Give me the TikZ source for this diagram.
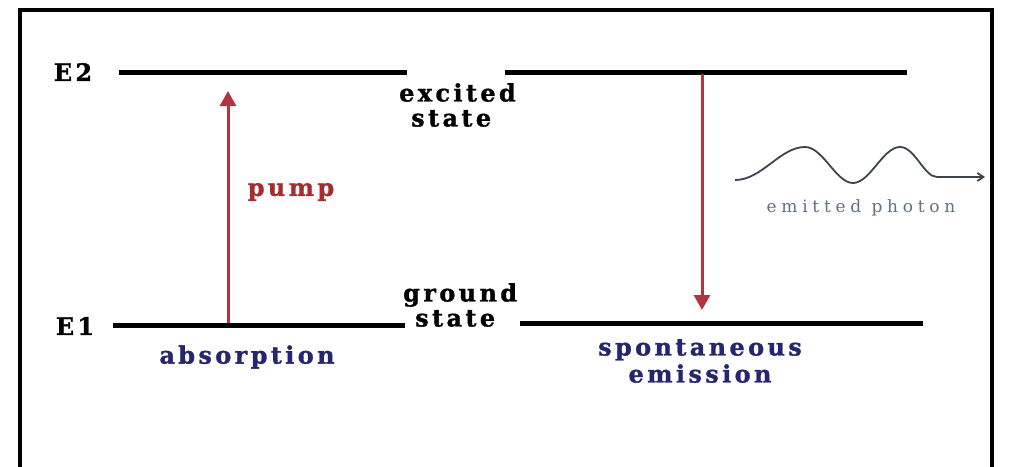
\documentclass[tikz,border=0pt]{standalone}
\usepackage{fontspec}
\usetikzlibrary{arrows.meta}
\setmainfont{DejaVu Serif}
\newfontfamily\lblfont[LetterSpace=14,FakeBold=1.2]{DejaVu Serif}
\newfontfamily\photfont[LetterSpace=28]{DejaVu Serif}
\definecolor{lvl}{RGB}{0,0,0}
\definecolor{arr}{RGB}{178,52,62}
\definecolor{pumpc}{RGB}{165,45,45}
\definecolor{navy}{RGB}{38,38,112}
\definecolor{phot}{RGB}{95,112,135}
\definecolor{wavec}{RGB}{60,68,78}
\tikzset{
  level/.style={line width=5pt, draw=lvl},
  transition/.style={line width=3pt, draw=arr, -{Triangle[width=16pt,length=15pt]}},
  lbl/.style={font=\lblfont\bfseries\fontsize{24}{25}\selectfont, inner sep=0pt},
  frame/.style={line width=4pt, draw=black},
}
\begin{document}
\begin{tikzpicture}[x=1pt,y=-1pt]
\useasboundingbox (0,0) rectangle (1017,466);
% frame (open at bottom)
\draw[frame] (20,470) -- (20,10) -- (992,10) -- (992,470);
% levels
\coordinate (e2La) at (119,72); \coordinate (e2Lb) at (407,72);
\coordinate (e2Ra) at (505,72); \coordinate (e2Rb) at (907,72);
\coordinate (e1La) at (113,325); \coordinate (e1Lb) at (405,325);
\coordinate (e1Ra) at (520,323); \coordinate (e1Rb) at (923,323);
\draw[level] (e2La) -- (e2Lb);
\draw[level] (e2Ra) -- (e2Rb);
\draw[level] (e1La) -- (e1Lb);
\draw[level] (e1Ra) -- (e1Rb);
% transitions
\coordinate (pumpS) at (228,323);
\coordinate (pumpT) at (228,91);
\coordinate (emS) at (702,74);
\coordinate (emT) at (702,310);
\draw[transition] (pumpS) -- (pumpT);
\draw[transition] (emS) -- (emT);
% labels
\node[lbl] (E2) at (73,72) {E2};
\node[lbl] (E1) at (75,326) {E1};
\node[lbl, anchor=west, align=left] (exc) at (399,105) {excited\\\hspace*{12pt}state};
\node[lbl, anchor=west, align=left] (gnd) at (403,305) {ground\\\hspace*{12pt}state};
\node[lbl, text=pumpc] (pump) at (291,192) {pump};
\node[lbl, text=navy] (abs) at (247,357) {absorption};
\node[lbl, text=navy, align=center, font=\lblfont\bfseries\fontsize{24}{27}\selectfont] (spon) at (700,361) {spontaneous\\emission};
% photon
\coordinate (w0) at (735,180);
\coordinate (w1) at (805,147);
\coordinate (w2) at (853,183);
\coordinate (w3) at (900,147);
\coordinate (w4) at (937,177);
\coordinate (w5) at (985,177);
\draw[wavec, line width=1.8pt, -{Straight Barb[length=6pt,width=8pt]}]
  (w0) .. controls (762,180) and (780,147) .. (w1)
       .. controls (823,147) and (836,183) .. (w2)
       .. controls (870,183) and (883,147) .. (w3)
       .. controls (915,147) and (924,177) .. (w4) -- (w5);
\node[font=\photfont\fontsize{17}{18}\selectfont, text=phot, inner sep=0pt] (ph) at (861,208) {emitted photon};
\end{tikzpicture}
\end{document}
